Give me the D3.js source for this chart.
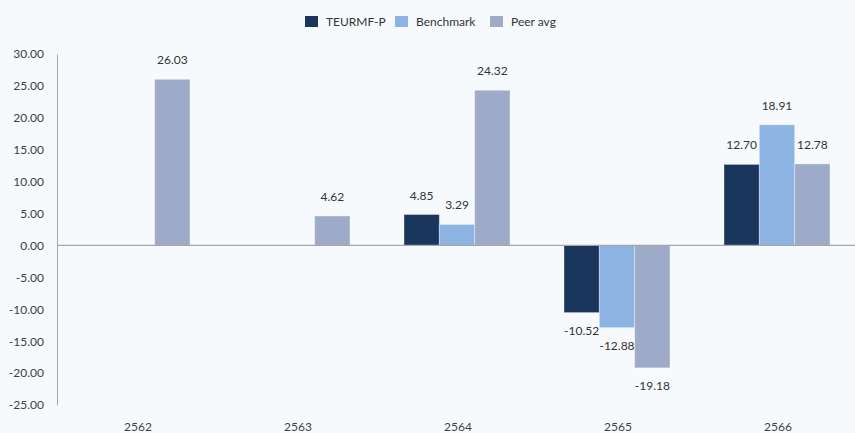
<!DOCTYPE html>
<html>
<head>
<meta charset="utf-8">
<title>Yearly returns</title>
<script src="https://d3js.org/d3.v7.min.js"></script>
<style>
html, body { margin: 0; padding: 0; background: #f7fafd; }
svg text { font-family: Lato, "DejaVu Sans", sans-serif; fill: #333; }
</style>
</head>
<body>
<div class="chart"></div>
<script>
// data
var years = ["2562", "2563", "2564", "2565", "2566"];
var series = ["TEURMF-P", "Benchmark", "Peer avg"];
var fund = [null, null, 4.85, -10.52, 12.70];
var benchmark = [null, null, 3.29, -12.88, 18.91];
var peer = [26.03, 4.62, 24.32, -19.18, 12.78];
var yTicks = [30, 25, 20, 15, 10, 5, 0, -5, -10, -15, -20, -25];
var colors = ["#1a365d", "#8db3e2", "#9eabc8"];

var width = 855, height = 433;
var margin = {top: 54, right: 0, bottom: 28, left: 57};

// plain hyphen for negatives, like the original
var fmt = function(v) { return d3.format(".2f")(v).replace("\u2212", "-"); };

var svg = d3.select(".chart").append("svg")
    .attr("width", width)
    .attr("height", height);

var x = d3.scaleBand()
    .domain(years)
    .range([margin.left, margin.left + 800]);

var inner = d3.scaleBand()
    .domain(series)
    .range([0, 106]);

var y = d3.scaleLinear()
    .domain([-25, 30])
    .range([height - margin.bottom, margin.top]);

// y axis labels, no ticks
var yAxis = svg.append("g")
    .attr("transform", "translate(" + margin.left + ",0)")
    .call(d3.axisLeft(y).tickValues(yTicks).tickSize(0).tickPadding(13)
        .tickFormat(fmt));
yAxis.select(".domain").attr("stroke", "#a6a6a6");
yAxis.selectAll("text").style("font-size", "12px").style("fill", "#404040");

// category labels
svg.append("g")
    .selectAll("text")
    .data(years)
    .enter().append("text")
    .attr("x", function(d) { return x(d) + x.bandwidth() / 2 + 1; })
    .attr("y", height - 2)
    .attr("text-anchor", "middle")
    .style("font-size", "12px")
    .style("fill", "#404040")
    .text(function(d) { return d; });

var rows = [];
[fund, benchmark, peer].forEach(function(vals, s) {
    vals.forEach(function(v, i) {
        if (v !== null) rows.push({year: years[i], s: series[s], c: colors[s], v: v});
    });
});

var groupOffset = (x.bandwidth() - 106) / 2;

var bars = svg.append("g");
bars.selectAll("rect")
    .data(rows)
    .enter().append("rect")
    .attr("x", function(d) { return x(d.year) + groupOffset + inner(d.s); })
    .attr("width", inner.bandwidth())
    .attr("y", function(d) { return y(Math.max(0, d.v)); })
    .attr("height", function(d) { return Math.abs(y(d.v) - y(0)); })
    .attr("fill", function(d) { return d.c; })
    .attr("stroke", "rgba(255,255,255,0.35)")
    .attr("stroke-width", 1);

// zero line
svg.append("line")
    .attr("x1", margin.left).attr("x2", width)
    .attr("y1", y(0)).attr("y2", y(0))
    .attr("stroke", "#a6a6a6")
    .attr("stroke-width", 1.3);

// value labels
svg.append("g")
    .selectAll("text")
    .data(rows)
    .enter().append("text")
    .attr("x", function(d) { return x(d.year) + groupOffset + inner(d.s) + inner.bandwidth() / 2; })
    .attr("y", function(d) { return d.v >= 0 ? y(d.v) - 15 : y(d.v) + 22; })
    .attr("text-anchor", "middle")
    .style("font-size", "12px")
    .text(function(d) { return fmt(d.v); });

// legend
var legendX = [305, 395, 490];
var legend = svg.append("g")
    .selectAll("g")
    .data(series)
    .enter().append("g")
    .attr("transform", function(d, i) { return "translate(" + legendX[i] + ",16)"; });
legend.append("rect")
    .attr("width", 13).attr("height", 11)
    .attr("fill", function(d, i) { return colors[i]; });
legend.append("text")
    .attr("x", 21).attr("y", 9.5)
    .style("font-size", "12px")
    .text(function(d) { return d; });
</script>
</body>
</html>
